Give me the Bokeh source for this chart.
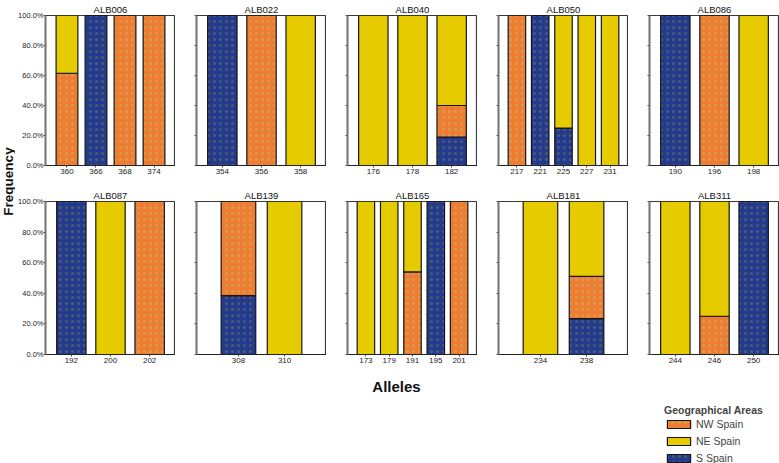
import math
from bokeh.plotting import figure
from bokeh.models import (FactorRange, Range1d, NumeralTickFormatter, FixedTicker,
                          Label, Legend, LegendItem, ColumnDataSource)
from bokeh.layouts import row, column
from bokeh.embed import file_html
from bokeh.resources import INLINE

# ---------------- data ----------------
markers = ["ALB006", "ALB022", "ALB040", "ALB050", "ALB086",
           "ALB087", "ALB139", "ALB165", "ALB181", "ALB311"]
alleles = [["360", "366", "368", "374"],
           ["354", "356", "358"],
           ["176", "178", "182"],
           ["217", "221", "225", "227", "231"],
           ["190", "196", "198"],
           ["192", "200", "202"],
           ["308", "310"],
           ["173", "179", "191", "195", "201"],
           ["234", "238"],
           ["244", "246", "250"]]
nw_spain = [[0.615, 0, 1, 1],
            [0, 1, 0],
            [0, 0, 0.21],
            [1, 0, 0, 0, 0],
            [0, 1, 0],
            [0, 0, 1],
            [0.615, 0],
            [0, 0, 0.54, 0, 1],
            [0, 0.275],
            [0, 0.25, 0]]
ne_spain = [[0.385, 0, 0, 0],
            [0, 0, 1],
            [1, 1, 0.60],
            [0, 0, 0.75, 1, 1],
            [0, 0, 1],
            [0, 1, 0],
            [0, 1],
            [1, 1, 0.46, 0, 0],
            [1, 0.49],
            [1, 0.75, 0]]
s_spain = [[0, 1, 0, 0],
           [1, 0, 0],
           [0, 0, 0.19],
           [0, 1, 0.25, 0, 0],
           [1, 0, 0],
           [1, 0, 0],
           [0.385, 0],
           [0, 0, 0, 1, 0],
           [0, 0.235],
           [0, 0, 1]]
area_names = ["NW Spain", "NE Spain", "S Spain"]
y_ticks = [0, 0.2, 0.4, 0.6, 0.8, 1.0]

# ---------------- style ----------------
COLORS = {"NW Spain": "#EE7D31", "NE Spain": "#E6CB00", "S Spain": "#223B8E"}
HATCH = {"NW Spain": "dot", "NE Spain": "blank", "S Spain": "dot"}
HATCH_COLOR = {"NW Spain": "#b9c27e", "NE Spain": "#E6CB00", "S Spain": "#8f7e48"}
FONT = "Liberation Sans"
FRAME_W = 130
FRAME_H = [150, 153]
TOP_B = [13, 15]
BOT_B = [21, 14]
GAP = 21
FREQ_W = 15
FIRST_LEFT = 28
PAD = {2: 0.41, 3: 0.16, 4: 0.24, 5: 0.29}
stack_order = ["S Spain", "NW Spain", "NE Spain"]   # bottom -> top
keys = {"S Spain": "S", "NW Spain": "NW", "NE Spain": "NE"}


def panel(i):
    col, rw = i % 5, i // 5
    cats = alleles[i]
    n = len(cats)
    src = ColumnDataSource(dict(allele=cats, S=s_spain[i], NW=nw_spain[i], NE=ne_spain[i]))
    p = figure(x_range=FactorRange(factors=cats, range_padding=PAD[n],
                                   range_padding_units="absolute"),
               y_range=Range1d(0, 1),
               frame_width=FRAME_W, frame_height=FRAME_H[rw],
               min_border_left=FIRST_LEFT if col == 0 else GAP,
               min_border_right=0, min_border_top=TOP_B[rw], min_border_bottom=BOT_B[rw],
               output_backend="svg", toolbar_location=None, tools="")
    p.vbar_stack([keys[a] for a in stack_order], x="allele", width=0.75, source=src,
                 fill_color=[COLORS[a] for a in stack_order],
                 line_color="#151515", line_width=1.2,
                 hatch_pattern=[HATCH[a] for a in stack_order],
                 hatch_color=[HATCH_COLOR[a] for a in stack_order],
                 hatch_alpha=0.45, hatch_scale=6, hatch_weight=1)
    p.title.text = markers[i]
    p.title.align = "center"
    p.title.text_font = FONT
    p.title.text_font_size = "9.5px"
    p.title.text_font_style = "normal"
    p.title.text_color = "#111111"
    p.title.standoff = 2
    p.title.offset = 0
    p.xgrid.visible = False
    p.ygrid.visible = False
    p.outline_line_color = "#3a3a3a"
    p.outline_line_width = 1.2

    ya = p.yaxis[0]
    ya.ticker = FixedTicker(ticks=y_ticks)
    ya.formatter = NumeralTickFormatter(format="0.0%")
    ya.major_label_text_font = FONT
    ya.major_label_text_font_size = "7.5px"
    ya.major_label_text_color = "#222222"
    ya.major_label_standoff = 0
    ya.major_tick_out = 2
    ya.major_tick_in = 0
    ya.minor_tick_out = 0
    ya.minor_tick_in = 0
    ya.major_tick_line_color = "#555555"
    ya.axis_line_color = "#7a7a7a"
    ya.axis_line_width = 2
    if col != 0:
        ya.major_label_overrides = {t: "" for t in y_ticks}

    xa = p.xaxis[0]
    xa.major_label_text_font = FONT
    xa.major_label_text_font_size = "8px"
    xa.major_label_text_color = "#222222"
    xa.major_label_standoff = 1
    xa.major_tick_out = 2
    xa.major_tick_in = 0
    xa.major_tick_line_color = "#444444"
    xa.axis_line_color = "#222222"
    xa.axis_line_width = 1
    return p


panels = [panel(i) for i in range(len(markers))]
rows_h = sum(TOP_B) + sum(FRAME_H) + sum(BOT_B)

freq = figure(width=FREQ_W, height=rows_h, min_border=0, x_range=Range1d(0, 1),
              y_range=Range1d(0, 1), x_axis_location=None, y_axis_location=None,
              output_backend="svg", toolbar_location=None, tools="")
freq.outline_line_color = None
freq.xgrid.visible = False
freq.ygrid.visible = False
freq.add_layout(Label(x=FREQ_W / 2, y=rows_h - 181, x_units="screen", y_units="screen",
                      text="Frequency", angle=math.pi / 2, text_align="center",
                      text_baseline="middle", text_font=FONT, text_font_size="13.5px",
                      text_font_style="bold", text_color="#111111"))

total_w = FREQ_W + FIRST_LEFT + FRAME_W + 4 * (GAP + FRAME_W)
bottom_h = 463 - rows_h
bot = figure(width=total_w, height=bottom_h, min_border=0, x_range=Range1d(0, 1),
             y_range=Range1d(0, 1), x_axis_location=None, y_axis_location=None,
             output_backend="svg", toolbar_location=None, tools="")
bot.outline_line_color = None
bot.xgrid.visible = False
bot.ygrid.visible = False
bot.add_layout(Label(x=396, y=bottom_h - 18, x_units="screen", y_units="screen",
                     text="Alleles", text_align="center", text_baseline="middle",
                     text_font=FONT, text_font_size="15px", text_font_style="bold",
                     text_color="#111111"))
items = []
for a in area_names:
    # legend proxies: a single NaN row so nothing is drawn in the plot area
    proxy = ColumnDataSource(dict(x=[float("nan")], top=[float("nan")]))
    r = bot.vbar(x="x", top="top", width=1, source=proxy, fill_color=COLORS[a],
                 line_color="#151515", line_width=1.2, hatch_pattern=HATCH[a],
                 hatch_color=HATCH_COLOR[a], hatch_alpha=0.45, hatch_scale=6, hatch_weight=1)
    items.append(LegendItem(label=a, renderers=[r]))
legend = Legend(items=items, location=(664, 1), title="Geographical Areas",
                title_text_font=FONT, title_text_font_style="bold",
                title_text_font_size="10.5px", title_standoff=2,
                label_text_font=FONT, label_text_font_size="10.5px",
                glyph_width=29, glyph_height=10, label_height=10, label_standoff=3,
                spacing=5, padding=0, margin=0, border_line_color=None,
                background_fill_alpha=0)
bot.add_layout(legend)

layout = column(row(freq, column(row(*panels[:5]), row(*panels[5:]))), bot)

open("out.html", "w").write(file_html(layout, INLINE))
